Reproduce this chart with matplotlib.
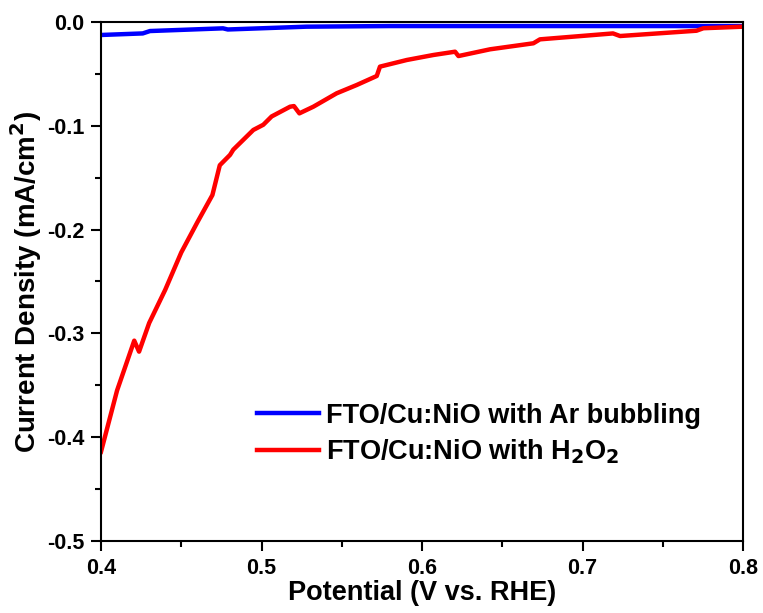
import matplotlib
matplotlib.use("Agg")
import matplotlib.pyplot as plt
from matplotlib.ticker import MultipleLocator

plt.rcParams['font.family'] = ['Liberation Sans', 'DejaVu Sans']
plt.rcParams['font.weight'] = 'bold'
plt.rcParams['mathtext.default'] = 'bf'

# Blue: Ar bubbling
v_ar = [0.400, 0.426, 0.4305, 0.476, 0.479, 0.528, 0.580, 0.642, 0.700, 0.760, 0.800]
j_ar = [-0.0125, -0.0110, -0.0087, -0.0061, -0.0072, -0.0045, -0.0039, -0.0039, -0.0039, -0.0039, -0.0039]

# Red: H2O2
v_h2o2 = [0.400, 0.410, 0.4207, 0.4237, 0.430, 0.440, 0.450, 0.460, 0.4694, 0.474,
          0.4804, 0.4824, 0.4949, 0.5011, 0.5063, 0.5178, 0.5202, 0.5236, 0.5323,
          0.5468, 0.5593, 0.5718, 0.5738, 0.5905, 0.607, 0.6206, 0.6227, 0.6424,
          0.6694, 0.6735, 0.719, 0.7234, 0.771, 0.7753, 0.800]
j_h2o2 = [-0.414, -0.355, -0.307, -0.3176, -0.290, -0.258, -0.222, -0.193, -0.1667, -0.138,
          -0.128, -0.123, -0.104, -0.099, -0.091, -0.0816, -0.081, -0.088, -0.0816,
          -0.0687, -0.0607, -0.052, -0.043, -0.0366, -0.0318, -0.0286, -0.0328, -0.0263,
          -0.0205, -0.0167, -0.0110, -0.0135, -0.0084, -0.0060, -0.0045]

fig = plt.figure(figsize=(7.63, 6.13), dpi=100)
ax = fig.add_axes([0.1324, 0.1175, 0.8414, 0.8466])

ax.plot(v_ar, j_ar, color='#0000FF', lw=3.2, label='FTO/Cu:NiO with Ar bubbling')
ax.plot(v_h2o2, j_h2o2, color='#FF0000', lw=3.2, label='FTO/Cu:NiO with H$_2$O$_2$')

ax.set_xlim(0.4, 0.8)
ax.set_ylim(-0.5, 0.0)
ax.xaxis.set_major_locator(MultipleLocator(0.1))
ax.xaxis.set_minor_locator(MultipleLocator(0.05))
ax.yaxis.set_major_locator(MultipleLocator(0.1))
ax.yaxis.set_minor_locator(MultipleLocator(0.05))
ax.xaxis.set_major_formatter(plt.FormatStrFormatter('%.1f'))
ax.yaxis.set_major_formatter(plt.FormatStrFormatter('%.1f'))

ax.tick_params(which='major', direction='out', length=7, width=1.5, labelsize=15.5, pad=5)
ax.tick_params(which='minor', direction='out', length=4, width=1.5)
ax.tick_params(top=False, right=False, which='both')
for s in ax.spines.values():
    s.set_linewidth(1.5)

ax.set_xlabel('Potential (V vs. RHE)', fontsize=19.5, fontweight='bold', labelpad=1)
ax.set_ylabel('Current Density (mA/cm$^2$)', fontsize=20, fontweight='bold', labelpad=2)

leg = ax.legend(loc='upper left', bbox_to_anchor=(0.243, 0.266), frameon=False,
                fontsize=19.5, handlelength=2.3, handletextpad=0.25, labelspacing=0.3,
                borderpad=0, borderaxespad=0)
for t in leg.get_texts():
    t.set_fontweight('bold')

fig.savefig('out.png', dpi=100)
